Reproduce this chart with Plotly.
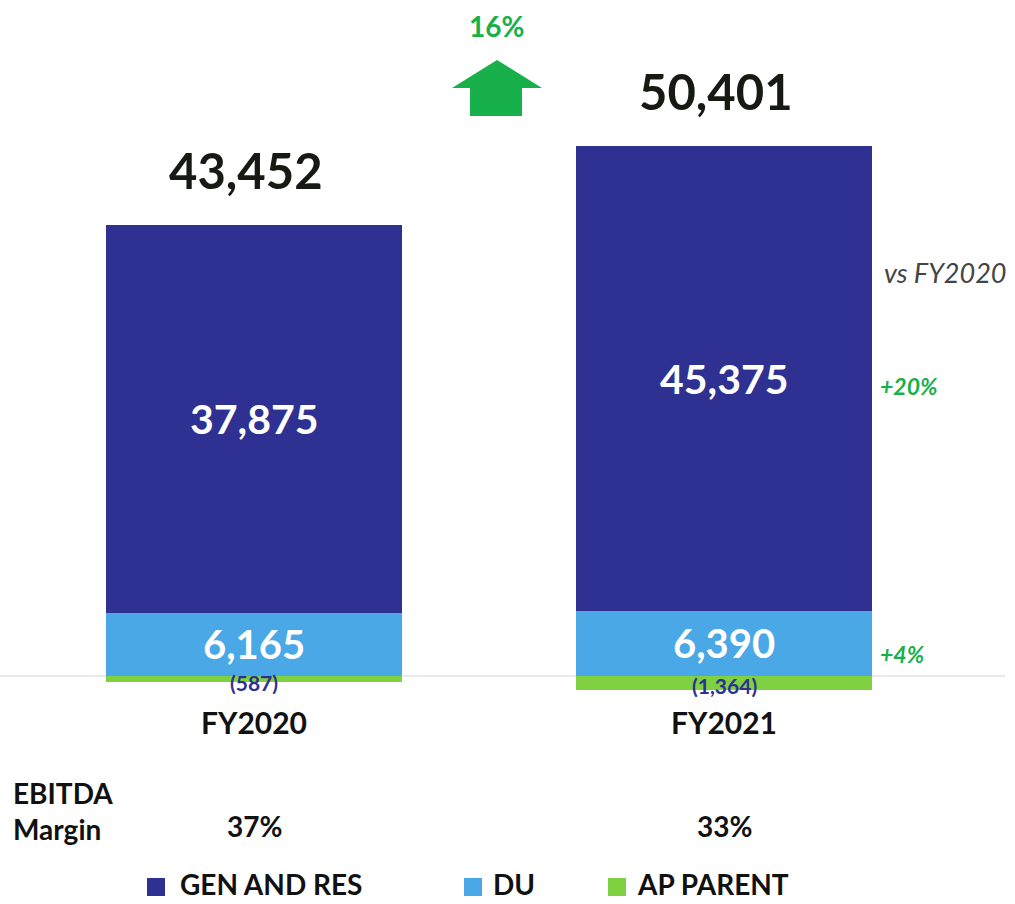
import plotly.graph_objects as go

categories = ["FY2020", "FY2021"]
gen_and_res = [37875, 45375]
du = [6165, 6390]
ap_parent = [-587, -1364]
totals = [43452, 50401]
ebitda_margin = ["37%", "33%"]
growth_total = "16%"
growth_gen = "+20%"
growth_du = "+4%"
series_names = ["GEN AND RES", "DU", "AP PARENT"]

W, H = 1015, 904
NAVY = "#2E3192"
LBLUE = "#4AA8E6"
LGREEN = "#7FD142"
TGREEN = "#18B04A"
DARK = "#161a12"
FONT = "Lato"


def px(x):
    return x / W


def py(y):
    return 1 - y / H


fig = go.Figure()
colors = {"GEN AND RES": NAVY, "DU": LBLUE, "AP PARENT": LGREEN}
values = {"GEN AND RES": gen_and_res, "DU": du, "AP PARENT": ap_parent}
# stack order: DU at the bottom, GEN AND RES on top, AP PARENT negative
for name in ["DU", "GEN AND RES", "AP PARENT"]:
    fig.add_trace(go.Bar(x=categories, y=values[name], name=name,
                         marker=dict(color=colors[name], line=dict(width=0)),
                         width=0.63, showlegend=False, hoverinfo="skip"))

ann = []


def A(**kw):
    kw.setdefault("showarrow", False)
    kw.setdefault("xanchor", "center")
    kw.setdefault("yanchor", "middle")
    ann.append(kw)


for i, c in enumerate(categories):
    A(x=c, y=du[i] + gen_and_res[i] / 2, text=f"{gen_and_res[i]:,}",
      font=dict(family=FONT, size=41, color="white", weight="bold"))
    A(x=c, y=du[i] / 2, text=f"{du[i]:,}",
      font=dict(family=FONT, size=40, color="white", weight="bold"))
    A(x=c, y=0, yshift=-6 if i == 0 else -9, text=f"({-ap_parent[i]:,})",
      font=dict(family=FONT, size=21, color=NAVY, weight="bold"))
    A(x=c, y=du[i] + gen_and_res[i], yshift=55, xshift=-8, text=f"{totals[i]:,}",
      font=dict(family=FONT, size=49, color=DARK, weight="bold"))
    A(x=c, yref="paper", y=py(722), text=c,
      font=dict(family=FONT, size=30, color="#111111", weight="bold"))
    A(x=c, yref="paper", y=py(826), text=ebitda_margin[i],
      font=dict(family=FONT, size=28, color="#111111", weight="bold"))

A(xref="paper", yref="paper", x=px(11), y=py(811), xanchor="left", align="left",
  text="EBITDA<br>Margin", font=dict(family=FONT, size=28, color="#111111", weight="bold"))
A(xref="paper", yref="paper", x=px(496), y=py(26), text=growth_total,
  font=dict(family=FONT, size=28, color=TGREEN, weight="bold"))
A(xref="paper", yref="paper", x=px(1009), y=py(272), xanchor="right", text="vs FY2020",
  font=dict(family=FONT, size=27, color="#444444", style="italic"))
A(xref="paper", yref="paper", x=px(878), y=py(386), xanchor="left", text=growth_gen,
  font=dict(family=FONT, size=23, color=TGREEN, weight="bold", style="italic"))
A(xref="paper", yref="paper", x=px(878), y=py(654), xanchor="left", text=growth_du,
  font=dict(family=FONT, size=23, color=TGREEN, weight="bold", style="italic"))

shapes = []
shapes.append(dict(type="line", xref="paper", x0=0, x1=px(1005), yref="y", y0=0, y1=0,
                   line=dict(color="#d4d4d4", width=1), layer="below"))
pts = [(497, 60), (542, 88), (522, 88), (522, 116), (470, 116), (470, 88), (452, 88)]
path = "M " + " L ".join(f"{px(x)},{py(y)}" for x, y in pts) + " Z"
shapes.append(dict(type="path", xref="paper", yref="paper", path=path,
                   fillcolor=TGREEN, line=dict(width=0)))

leg = [(147, 178), (464, 491), (608, 635)]
for (sx, tx), name in zip(leg, series_names):
    shapes.append(dict(type="rect", xref="paper", yref="paper", x0=px(sx), x1=px(sx + 18),
                       y0=py(896), y1=py(878), fillcolor=colors[name], line=dict(width=0)))
    A(xref="paper", yref="paper", x=px(tx), y=py(884), xanchor="left", text=name,
      font=dict(family=FONT, size=28, color="#111111", weight="bold"))

s = 388 / 37875
fig.update_layout(
    width=W, height=H, autosize=False,
    margin=dict(l=0, r=0, t=0, b=0),
    paper_bgcolor="white", plot_bgcolor="white",
    barmode="relative", bargap=0,
    xaxis=dict(range=[-254 / 470, (W - 254) / 470], visible=False, fixedrange=True),
    yaxis=dict(range=[-(H - 676) / s, 676 / s], visible=False, fixedrange=True),
    annotations=ann, shapes=shapes, showlegend=False,
)
fig.write_html("out.html", config={"displayModeBar": False},
               post_script="document.body.style.margin='0px';document.body.style.overflow='hidden';")
